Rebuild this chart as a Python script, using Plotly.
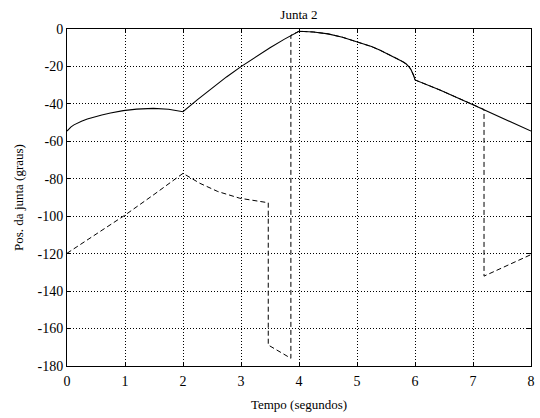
import plotly.graph_objects as go

# Joint 2 position over time: actual trajectory (solid) and reference (dashed)
t_solid = [0.0, 0.03, 0.07, 0.12, 0.18, 0.25, 0.35, 0.46, 0.6, 0.75, 0.97, 1.2, 1.49, 1.75, 2.0,
           2.25, 2.5, 2.75, 3.0, 3.25, 3.5, 3.75, 4.0,
           4.25, 4.5, 4.75, 5.05, 5.25, 5.39, 5.55, 5.74, 5.8, 5.85, 5.88, 5.91, 5.93, 5.96, 5.98, 6.0,
           6.43, 7.0, 8.0]
pos_solid = [-54.5, -53.4, -52.3, -51.2, -50.2, -49.3, -48.1, -47.0, -45.9, -44.9, -43.6, -42.8, -42.4, -42.9, -44.2,
             -37.7, -31.5, -25.6, -20.1, -14.9, -10.0, -5.4, -1.2,
             -1.6, -2.6, -4.4, -7.3, -9.4, -11.2, -13.6, -16.6, -17.6, -18.7, -19.6, -20.7, -21.7, -23.5, -25.1, -27.2,
             -32.6, -40.5, -54.5]

t_dashed = [0.0, 0.5, 1.0, 1.5, 2.0, 2.29, 2.6, 2.98, 3.25, 3.47, 3.47, 3.86,
            3.86, 4.0, 4.25, 4.5, 4.75, 5.05, 5.25, 5.39, 5.55, 5.74, 5.85, 5.91, 5.96, 6.0, 6.43, 7.0,
            7.19, 7.19, 8.0]
pos_dashed = [-119.8, -109.8, -99.4, -88.4, -77.1, -82.4, -86.8, -90.4, -91.8, -92.8, -168.8, -175.9,
              -3.4, -1.2, -1.6, -2.6, -4.4, -7.3, -9.4, -11.2, -13.6, -16.6, -18.7, -20.7, -23.5, -27.2,
              -32.6, -40.5, -43.0, -132.0, -120.5]

x_ticks = [0, 1, 2, 3, 4, 5, 6, 7, 8]
y_ticks = [0, -20, -40, -60, -80, -100, -120, -140, -160, -180]

serif = "Liberation Serif"

fig = go.Figure()
fig.add_trace(go.Scatter(x=t_dashed, y=pos_dashed, mode="lines",
                         line=dict(color="black", width=1, dash="5px,3px"),
                         showlegend=False))
fig.add_trace(go.Scatter(x=t_solid, y=pos_solid, mode="lines",
                         line=dict(color="black", width=1.1),
                         showlegend=False))

axis_common = dict(
    showline=True, linecolor="black", linewidth=1, mirror="allticks",
    ticks="inside", ticklen=4, tickcolor="black", tickwidth=1,
    showgrid=True, gridcolor="black", gridwidth=1, griddash="1px,2px",
    zeroline=False, automargin=False,
    tickfont=dict(family=serif, size=14, color="black"),
)

fig.update_layout(
    width=540, height=418,
    margin=dict(l=67, r=9, t=29, b=52),
    paper_bgcolor="white", plot_bgcolor="white",
    font=dict(family=serif, color="black"),
    title=dict(text="Junta 2", x=0.5536, xanchor="center", y=0.965, yanchor="middle",
               font=dict(family=serif, size=13, color="black")),
    xaxis=dict(range=[0, 8], tickvals=x_ticks, ticktext=[str(v) for v in x_ticks],
               ticklabelstandoff=2,
               title=dict(text="Tempo (segundos)", standoff=12,
                          font=dict(family=serif, size=13, color="black")),
               **axis_common),
    yaxis=dict(range=[-180, 0], tickvals=y_ticks, ticktext=[str(v) for v in y_ticks],
               title=dict(text="Pos. da junta (graus)", standoff=10,
                          font=dict(family=serif, size=13, color="black")),
               **axis_common),
)

fig.write_html("out.html")
